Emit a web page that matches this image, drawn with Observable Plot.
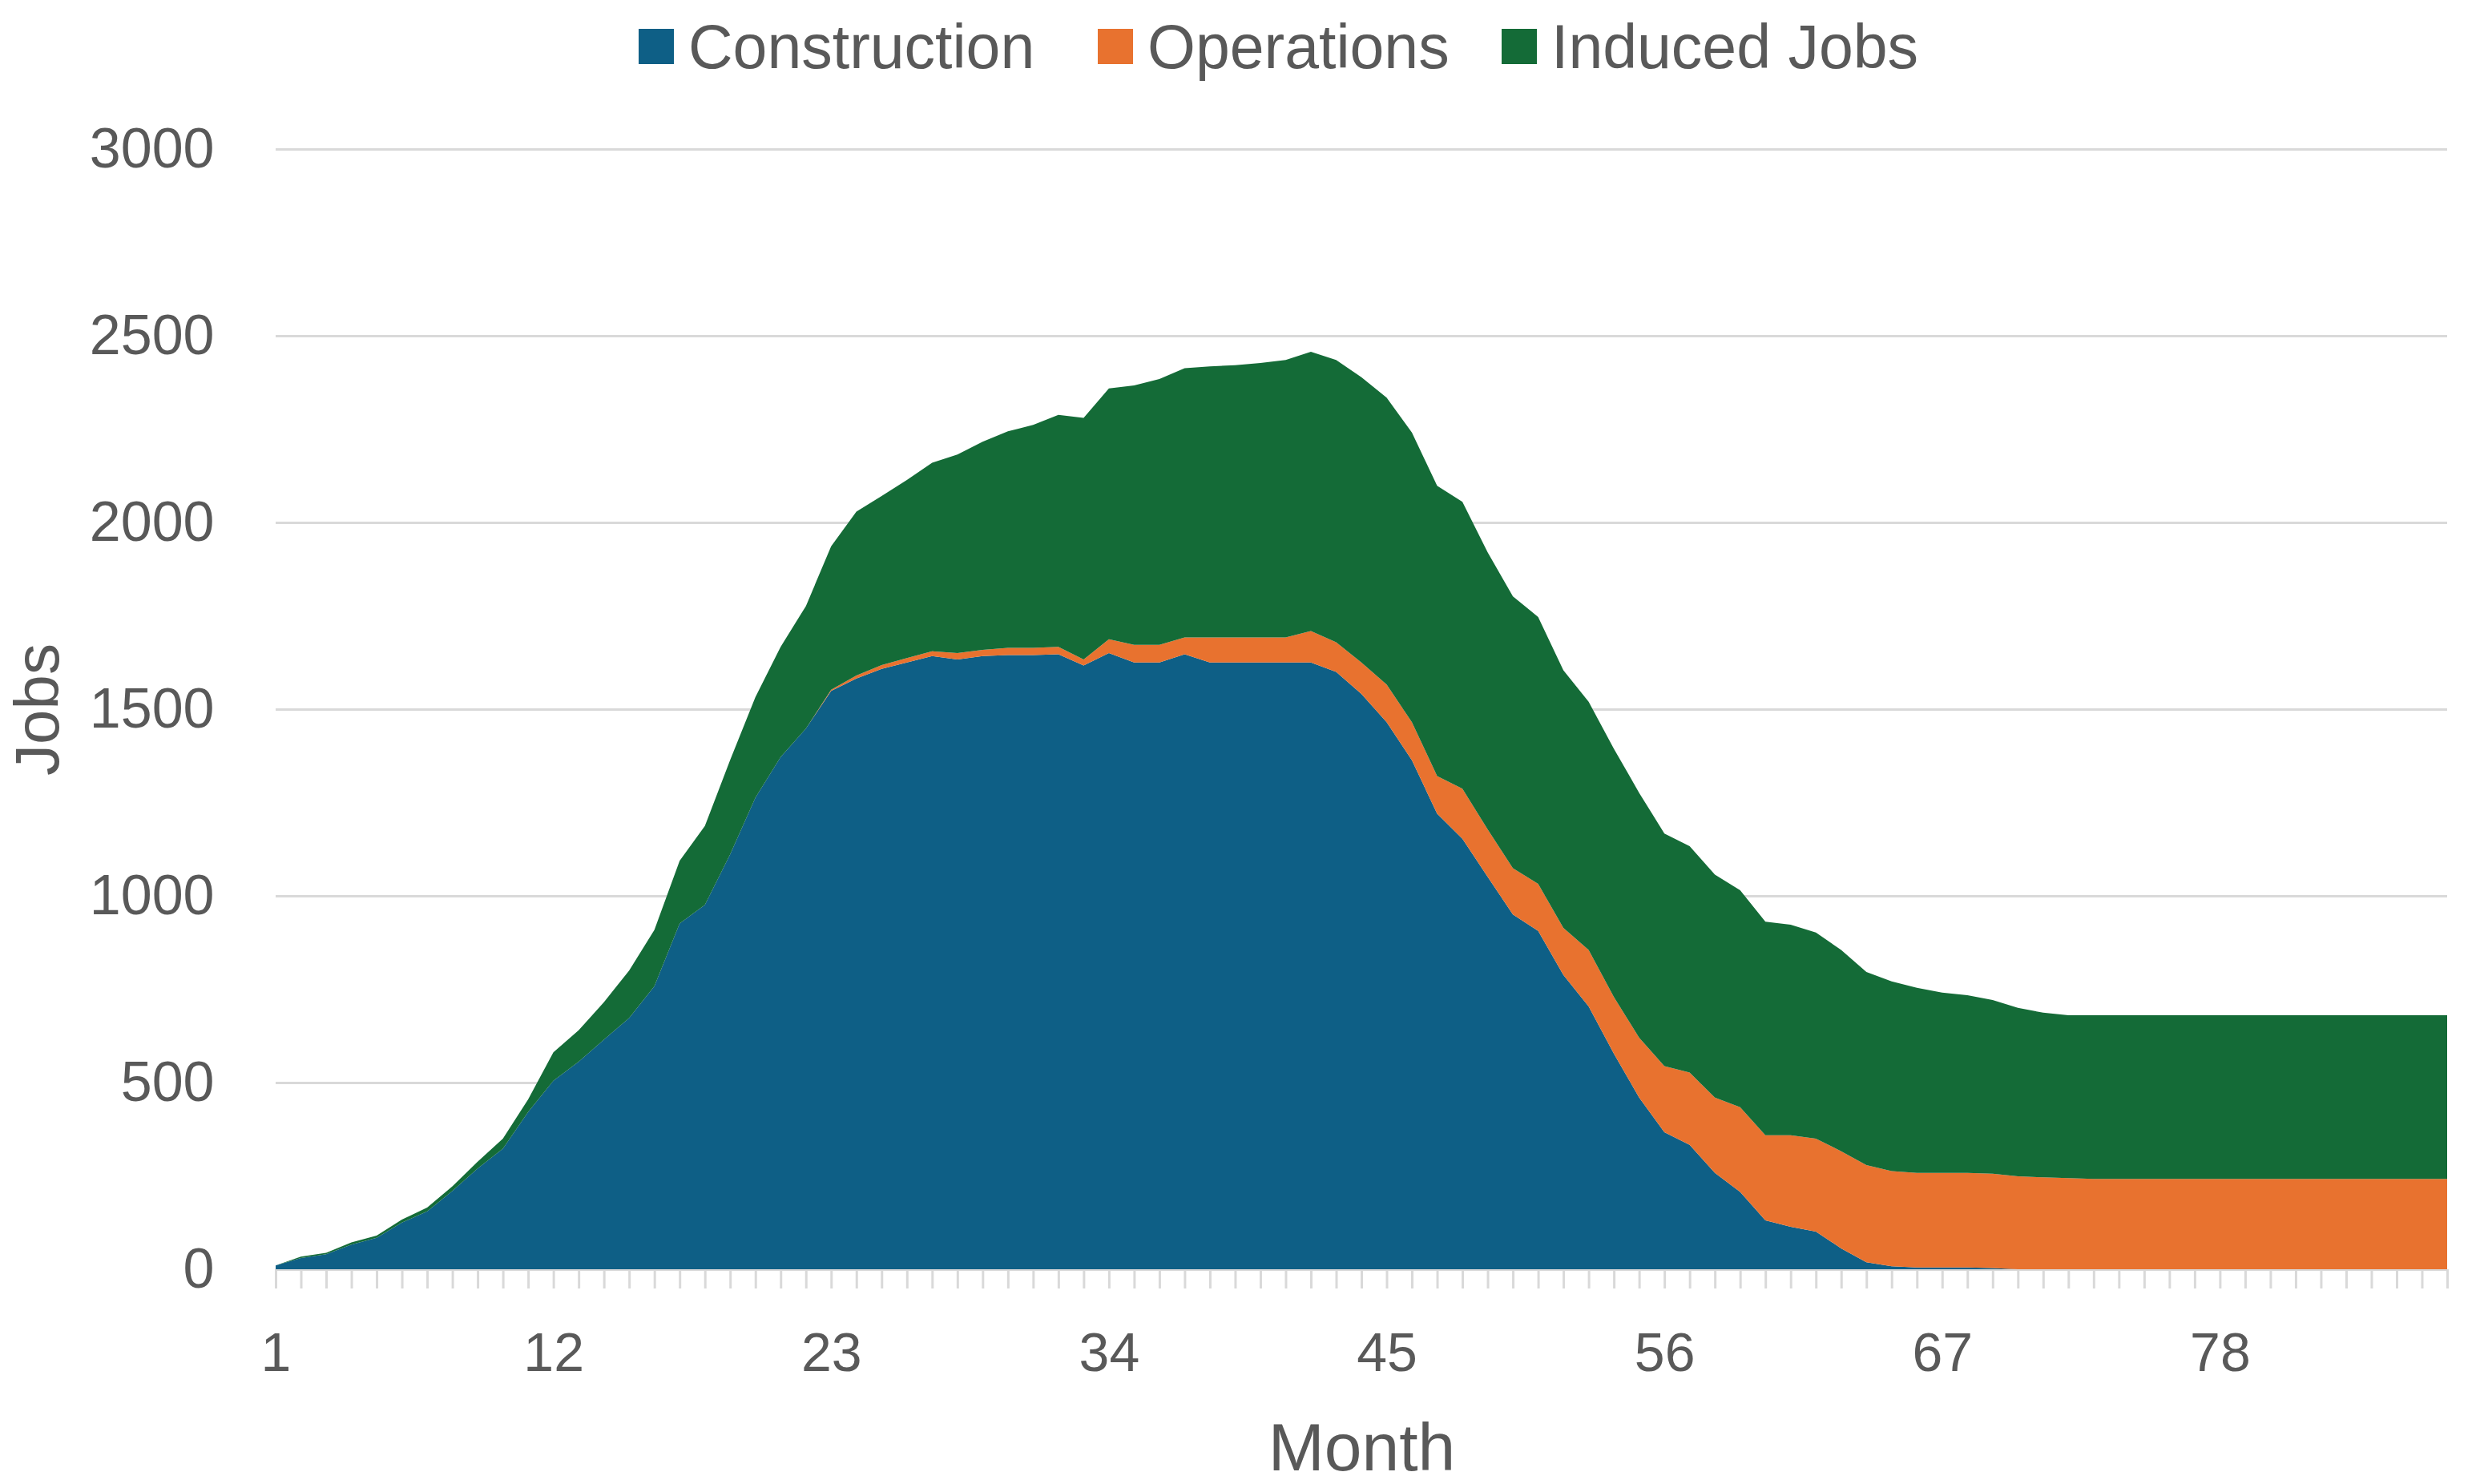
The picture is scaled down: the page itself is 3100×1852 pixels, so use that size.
<!DOCTYPE html>
<html><head><meta charset="utf-8">
<script src="https://cdn.jsdelivr.net/npm/d3@7"></script>
<script src="https://cdn.jsdelivr.net/npm/@observablehq/plot@0.6"></script>
<style>
html,body{margin:0;padding:0;background:#fff;overflow:hidden;width:3100px;height:1852px;}
#legend{height:116px;position:relative;font-family:"Liberation Sans",Arial,sans-serif;font-size:77px;color:#595959;}
.item{position:absolute;top:0;height:116px;display:flex;align-items:center;white-space:nowrap;}
.sw{width:44px;height:44px;margin-right:18px;}
#chart svg{display:block;}
</style></head><body>
<div id="legend"></div><div id="chart"></div>
<script>
const seriesNames = ["Construction", "Operations", "Induced Jobs"];
const colors = ["#0E5F86", "#E8722F", "#146B37"];
const months = d3.range(1, 88);
const xLabels = [1, 12, 23, 34, 45, 56, 67, 78];
const yTicks = [0, 500, 1000, 1500, 2000, 2500, 3000];

const construction = [10,30,40,66,84,125,155,210,270,323,421,505,556,615,673,758,926,976,1111,1263,1372,1448,1549,1582,1608,1625,1642,1633,1642,1645,1645,1647,1617,1650,1625,1625,1647,1625,1625,1625,1625,1625,1600,1541,1465,1363,1220,1153,1051,950,906,788,704,577,460,367,333,258,207,131,114,101,56,19,8,5,5,5,3,0,0,0,
0,0,0,0,0,0,0,0,0,0,0,0,0,0,0];
const operations = [0,0,0,0,0,0,0,0,0,0,0,0,0,0,0,0,0,0,0,0,0,0,3,8,10,12,13,17,17,19,19,20,16,37,47,47,45,67,67,67,67,84,79,84,101,102,101,134,127,124,126,126,151,152,160,177,194,202,227,228,245,249,260,260,255,253,253,253,253,249,246,244,
242,242,242,242,242,242,242,242,242,242,242,242,242,242,242];
const induced = [0,4,4,6,6,8,10,12,18,27,34,76,84,100,127,151,168,211,253,269,295,328,384,439,453,477,505,532,557,580,597,621,647,672,695,712,721,726,729,735,743,748,756,764,768,776,777,768,742,728,715,690,665,665,656,623,606,597,581,572,564,552,539,517,508,496,483,476,465,451,441,436,
438,438,438,438,438,438,438,438,438,438,438,438,438,438,438];

const seriesValues = [construction, operations, induced];
const data = [];
seriesNames.forEach((s, i) => months.forEach((m, j) => data.push({month: m, series: s, jobs: seriesValues[i][j]})));

// legend
const legendLefts = [797, 1370, 1874];
const legend = document.getElementById("legend");
seriesNames.forEach((s, i) => {
  const it = document.createElement("div");
  it.className = "item";
  it.style.left = legendLefts[i] + "px";
  const sw = document.createElement("div");
  sw.className = "sw";
  sw.style.background = colors[i];
  const tx = document.createElement("span");
  tx.textContent = s;
  it.appendChild(sw); it.appendChild(tx);
  legend.appendChild(it);
});

const chart = Plot.plot({
  width: 3100, height: 1736,
  marginLeft: 344, marginRight: 46, marginTop: 70, marginBottom: 268,
  style: {fontFamily: "Liberation Sans, Arial, sans-serif", fontSize: "68px", color: "#595959", background: "#fff"},
  x: {domain: [1, 87]},
  y: {domain: [0, 3000]},
  color: {domain: seriesNames, range: colors},
  marks: [
    Plot.gridY(yTicks, {stroke: "#d9d9d9", strokeOpacity: 1, strokeWidth: 3}),
    Plot.areaY(data, {x: "month", y: "jobs", fill: "series", order: seriesNames}),
    Plot.axisY(yTicks, {tickSize: 0, tickPadding: 77, fontSize: 70, fill: "#595959", label: null, tickFormat: d => String(d)}),
    Plot.axisX(months, {tickSize: 24, stroke: "#d9d9d9", strokeWidth: 3, tickPadding: 54, fill: "#595959", fontSize: 68,
      tickFormat: d => xLabels.includes(d) ? String(d) : "", label: null}),
    Plot.text(["Jobs"], {text: d => d, frameAnchor: "left", textAnchor: "middle", dx: -296, rotate: -90, fontSize: 78, fill: "#595959"}),
    Plot.text(["Month"], {text: d => d, frameAnchor: "bottom", dy: 250, fontSize: 84, fill: "#595959"})
  ]
});
document.getElementById("chart").appendChild(chart);
</script>
</body></html>
